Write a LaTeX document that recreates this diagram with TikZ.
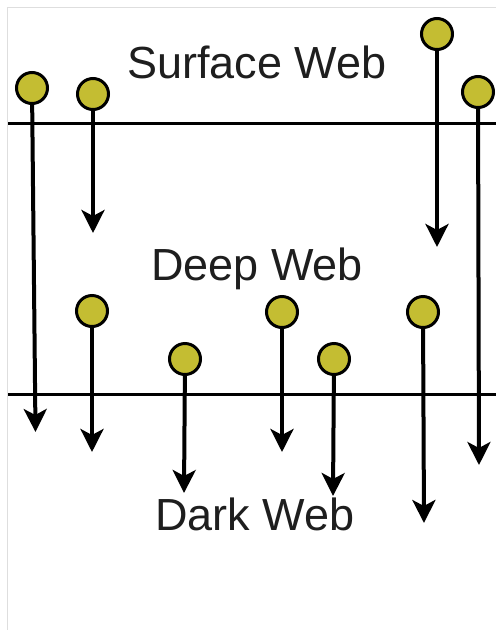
\documentclass[tikz,border=0pt]{standalone}
\usepackage{fontspec}
\setmainfont{Liberation Sans}
\usetikzlibrary{arrows.meta}
\definecolor{dotfill}{RGB}{196,189,50}
\definecolor{framegray}{RGB}{222,222,222}
\definecolor{labelgray}{RGB}{30,30,30}
\begin{document}
\begin{tikzpicture}[
        x=1pt, y=-1pt,
        dot/.style={circle, draw, line width=3pt, fill=dotfill, minimum size=31pt, inner sep=0pt},
        drop/.style={line width=4pt, -{Stealth[length=23pt, width=23pt, inset=6pt]}},
        layer/.style={line width=3pt},
        title/.style={anchor=base, text=labelgray, font=\fontsize{45}{54}\selectfont}
    ]
        \useasboundingbox (0,0) rectangle (496,630);
        \draw[framegray, line width=1pt] (7.5,630) -- (7.5,7) -- (496,7);

        % layer boundaries
        \draw[layer] (8,123) -- (496,123);
        \draw[layer] (8,394) -- (496,394);

        % labels
        \node[title] (surface) at (257,78) {Surface Web};
        \node[title] (deep) at (257,280) {Deep Web};
        \node[title] (dark) at (255,530) {Dark Web};

        % dots on the surface
        \node[dot] (s1) at (32,88) {};
        \node[dot] (s2) at (93,94) {};
        \node[dot] (s3) at (437,34) {};
        \node[dot] (s4) at (478,92) {};

        % dots in the deep web
        \node[dot] (d1) at (92,311) {};
        \node[dot] (d2) at (185,359) {};
        \node[dot] (d3) at (282,312) {};
        \node[dot] (d4) at (334,359) {};
        \node[dot] (d5) at (423,312) {};

        \coordinate (es1) at (35.5,432);
        \coordinate (es2) at (93,233);
        \coordinate (es3) at (437,247);
        \coordinate (es4) at (479,465);
        \coordinate (ed1) at (92,452);
        \coordinate (ed2) at (184,493);
        \coordinate (ed3) at (282,452);
        \coordinate (ed4) at (333,496);
        \coordinate (ed5) at (424,523);

        \foreach \n in {s1,s2,s3,s4,d1,d2,d3,d4,d5}
            \draw[drop] (\n) -- (e\n);
    \end{tikzpicture}
\end{document}
